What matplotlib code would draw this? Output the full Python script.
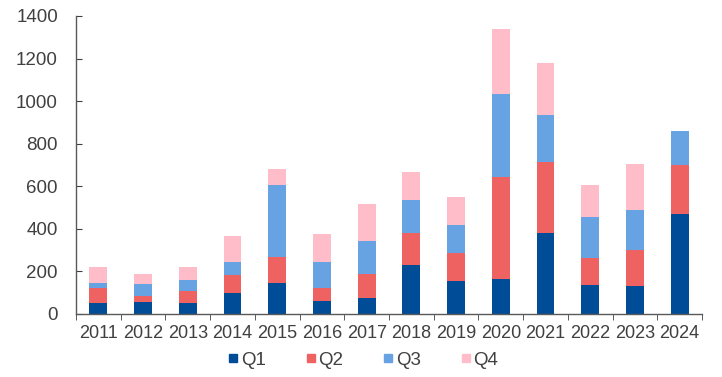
import matplotlib
matplotlib.use("Agg")
import matplotlib.pyplot as plt
import numpy as np
from matplotlib.lines import Line2D

years = ["2011", "2012", "2013", "2014", "2015", "2016", "2017", "2018", "2019",
         "2020", "2021", "2022", "2023", "2024"]
q1 = [50, 56, 50, 99, 144, 59, 74, 228, 153, 163, 380, 135, 130, 469]
q2 = [72, 28, 58, 84, 125, 63, 112, 151, 132, 480, 332, 129, 172, 230]
q3 = [25, 58, 50, 63, 339, 124, 158, 156, 133, 392, 223, 191, 188, 163]
q4 = [75, 44, 61, 122, 74, 128, 171, 131, 131, 306, 244, 150, 215, 0]
series = ["Q1", "Q2", "Q3", "Q4"]
colors = ["#004C97", "#EE6262", "#67A3E2", "#FFBDC9"]

plt.rcParams['font.family'] = ['Liberation Sans', 'DejaVu Sans']
fig = plt.figure(figsize=(7.22, 3.77), dpi=100)
ax = fig.add_axes([76/722, 1 - 314/377, 626/722, 298/377])

x = np.arange(len(years))
bottom = np.zeros(len(years))
for vals, c in zip([q1, q2, q3, q4], colors):
    v = np.array(vals, dtype=float)
    ax.bar(x, v, width=0.4, bottom=bottom, color=c, edgecolor='none')
    bottom += v

ax.set_xlim(-0.5, len(years) - 0.5)
ax.set_ylim(0, 1400)
ax.set_yticks(np.arange(0, 1401, 200))
ax.set_xticks(x)
ax.set_xticklabels(years)
ax.set_xticks(np.arange(-0.5, len(years), 1), minor=True)
ax.tick_params(axis='x', which='major', length=0, pad=8, labelsize=13, labelcolor='#404040')
ax.tick_params(axis='x', which='minor', length=4, direction='out', color='#404040')
ax.tick_params(axis='y', length=4, direction='in', labelsize=13.5, labelcolor='#404040', color='#404040', pad=13)
for s in ['top', 'right']:
    ax.spines[s].set_visible(False)
for s in ['left', 'bottom']:
    ax.spines[s].set_color('#595959')
    ax.spines[s].set_linewidth(1.0)

handles = [Line2D([], [], marker='s', linestyle='none', markersize=6,
                  markerfacecolor=c, markeredgecolor=c) for c in colors]
fig.legend(handles, series, loc='center', bbox_to_anchor=(360/722, 1 - 360/377),
           ncol=4, frameon=False, fontsize=13.5, handletextpad=-0.2, handlelength=1.2,
           columnspacing=1.8, labelcolor='#404040')

fig.savefig("out.png", dpi=100)
